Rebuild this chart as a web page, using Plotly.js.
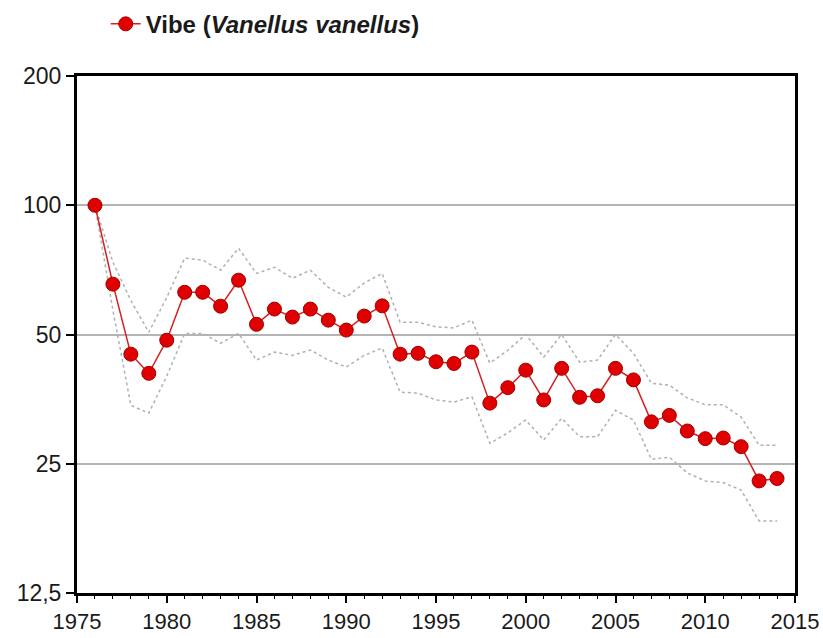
<!DOCTYPE html>
<html>
<head>
<meta charset="utf-8">
<script src="https://cdn.plot.ly/plotly-3.0.1.min.js"></script>
<style>html,body{margin:0;padding:0;background:#fff;}#chart{width:823px;height:638px;}</style>
</head>
<body>
<div id="chart"></div>
<script>
const years = [1976,1977,1978,1979,1980,1981,1982,1983,1984,1985,1986,1987,1988,1989,1990,1991,1992,1993,1994,1995,1996,1997,1998,1999,2000,2001,2002,2003,2004,2005,2006,2007,2008,2009,2010,2011,2012,2013,2014];
const index = [100,65.5,45,40.6,48.5,62.7,62.7,58.2,66.9,52.8,57.3,54.9,57.3,54.0,51.2,55.2,58.3,45.0,45.2,43.2,42.8,45.5,34.6,37.6,41.3,35.2,41.7,35.7,36.0,41.7,39.2,31.3,32.4,29.8,28.6,28.7,27.4,22.8,23.1];
const upper = [100,73.7,60,50.6,61,75.3,74.5,70.6,79.4,69.4,71.7,67.6,70.6,64.4,61.1,65.9,69.4,53.4,53.4,52.1,51.8,54.0,42.9,45.9,50,44.3,50,43.1,43.6,50,45.2,38.5,38.1,35.6,34.3,34.3,32.1,27.6,27.6];
const lower = [100,57,34.2,32.8,40,50.3,50.3,47.7,50.3,43.6,45.5,44.7,46,43.6,42,44.7,46.5,36.7,36.5,35.2,34.8,35.8,27.9,29.5,31.6,28.4,31.9,28.9,28.9,33.3,31.6,25.6,25.9,23.8,22.8,22.6,21.7,18.4,18.4];
const yTickVals = [12.5,25,50,100,200];
const yTickText = ['12,5','25','50','100','200'];
const seriesName = '<b>Vibe (<i>Vanellus vanellus</i>)</b>';

const bandStyle = {color:'#b0b0b0', width:1.5, dash:'dot'};
const traces = [
  {x:years, y:upper, type:'scatter', mode:'lines', line:bandStyle, showlegend:false, hoverinfo:'skip'},
  {x:years, y:lower, type:'scatter', mode:'lines', line:bandStyle, showlegend:false, hoverinfo:'skip'},
  {x:years, y:index, type:'scatter', mode:'lines+markers', name:seriesName,
   line:{color:'#d42020', width:1.5},
   marker:{color:'#e00000', size:14, line:{color:'#a00000', width:1}}}
];

const layout = {
  width:823, height:638,
  margin:{l:77, r:28, t:76, b:45, autoexpand:false},
  paper_bgcolor:'#fff', plot_bgcolor:'#fff',
  font:{family:'"Liberation Sans", Arial, sans-serif', size:22, color:'#1a1a1a'},
  showlegend:true,
  legend:{x:0.04, xanchor:'left', yref:'container', y:0.962, yanchor:'middle', orientation:'h',
          font:{size:24, color:'#1a1a1a'}, bgcolor:'rgba(0,0,0,0)'},
  xaxis:{range:[1975,2015], tickmode:'linear', tick0:1975, dtick:5,
         ticks:'outside', ticklen:7, tickwidth:2, tickcolor:'#000',
         showline:true, linecolor:'#000', linewidth:3, mirror:true,
         showgrid:false, zeroline:false,
         minor:{dtick:1, ticks:'outside', ticklen:3, tickwidth:1, tickcolor:'#000', showgrid:false},
         tickfont:{size:22}},
  yaxis:{type:'log', range:[Math.log10(12.5), Math.log10(200)],
         tickmode:'array', tickvals:yTickVals, ticktext:yTickText,
         ticks:'outside', ticklen:8, tickwidth:2, tickcolor:'#000',
         showline:true, linecolor:'#000', linewidth:3, mirror:true,
         showgrid:true, gridcolor:'#b4b4b4', gridwidth:2, zeroline:false,
         tickfont:{size:23}}
};

Plotly.newPlot('chart', traces, layout, {displayModeBar:false, staticPlot:true});
</script>
</body>
</html>
